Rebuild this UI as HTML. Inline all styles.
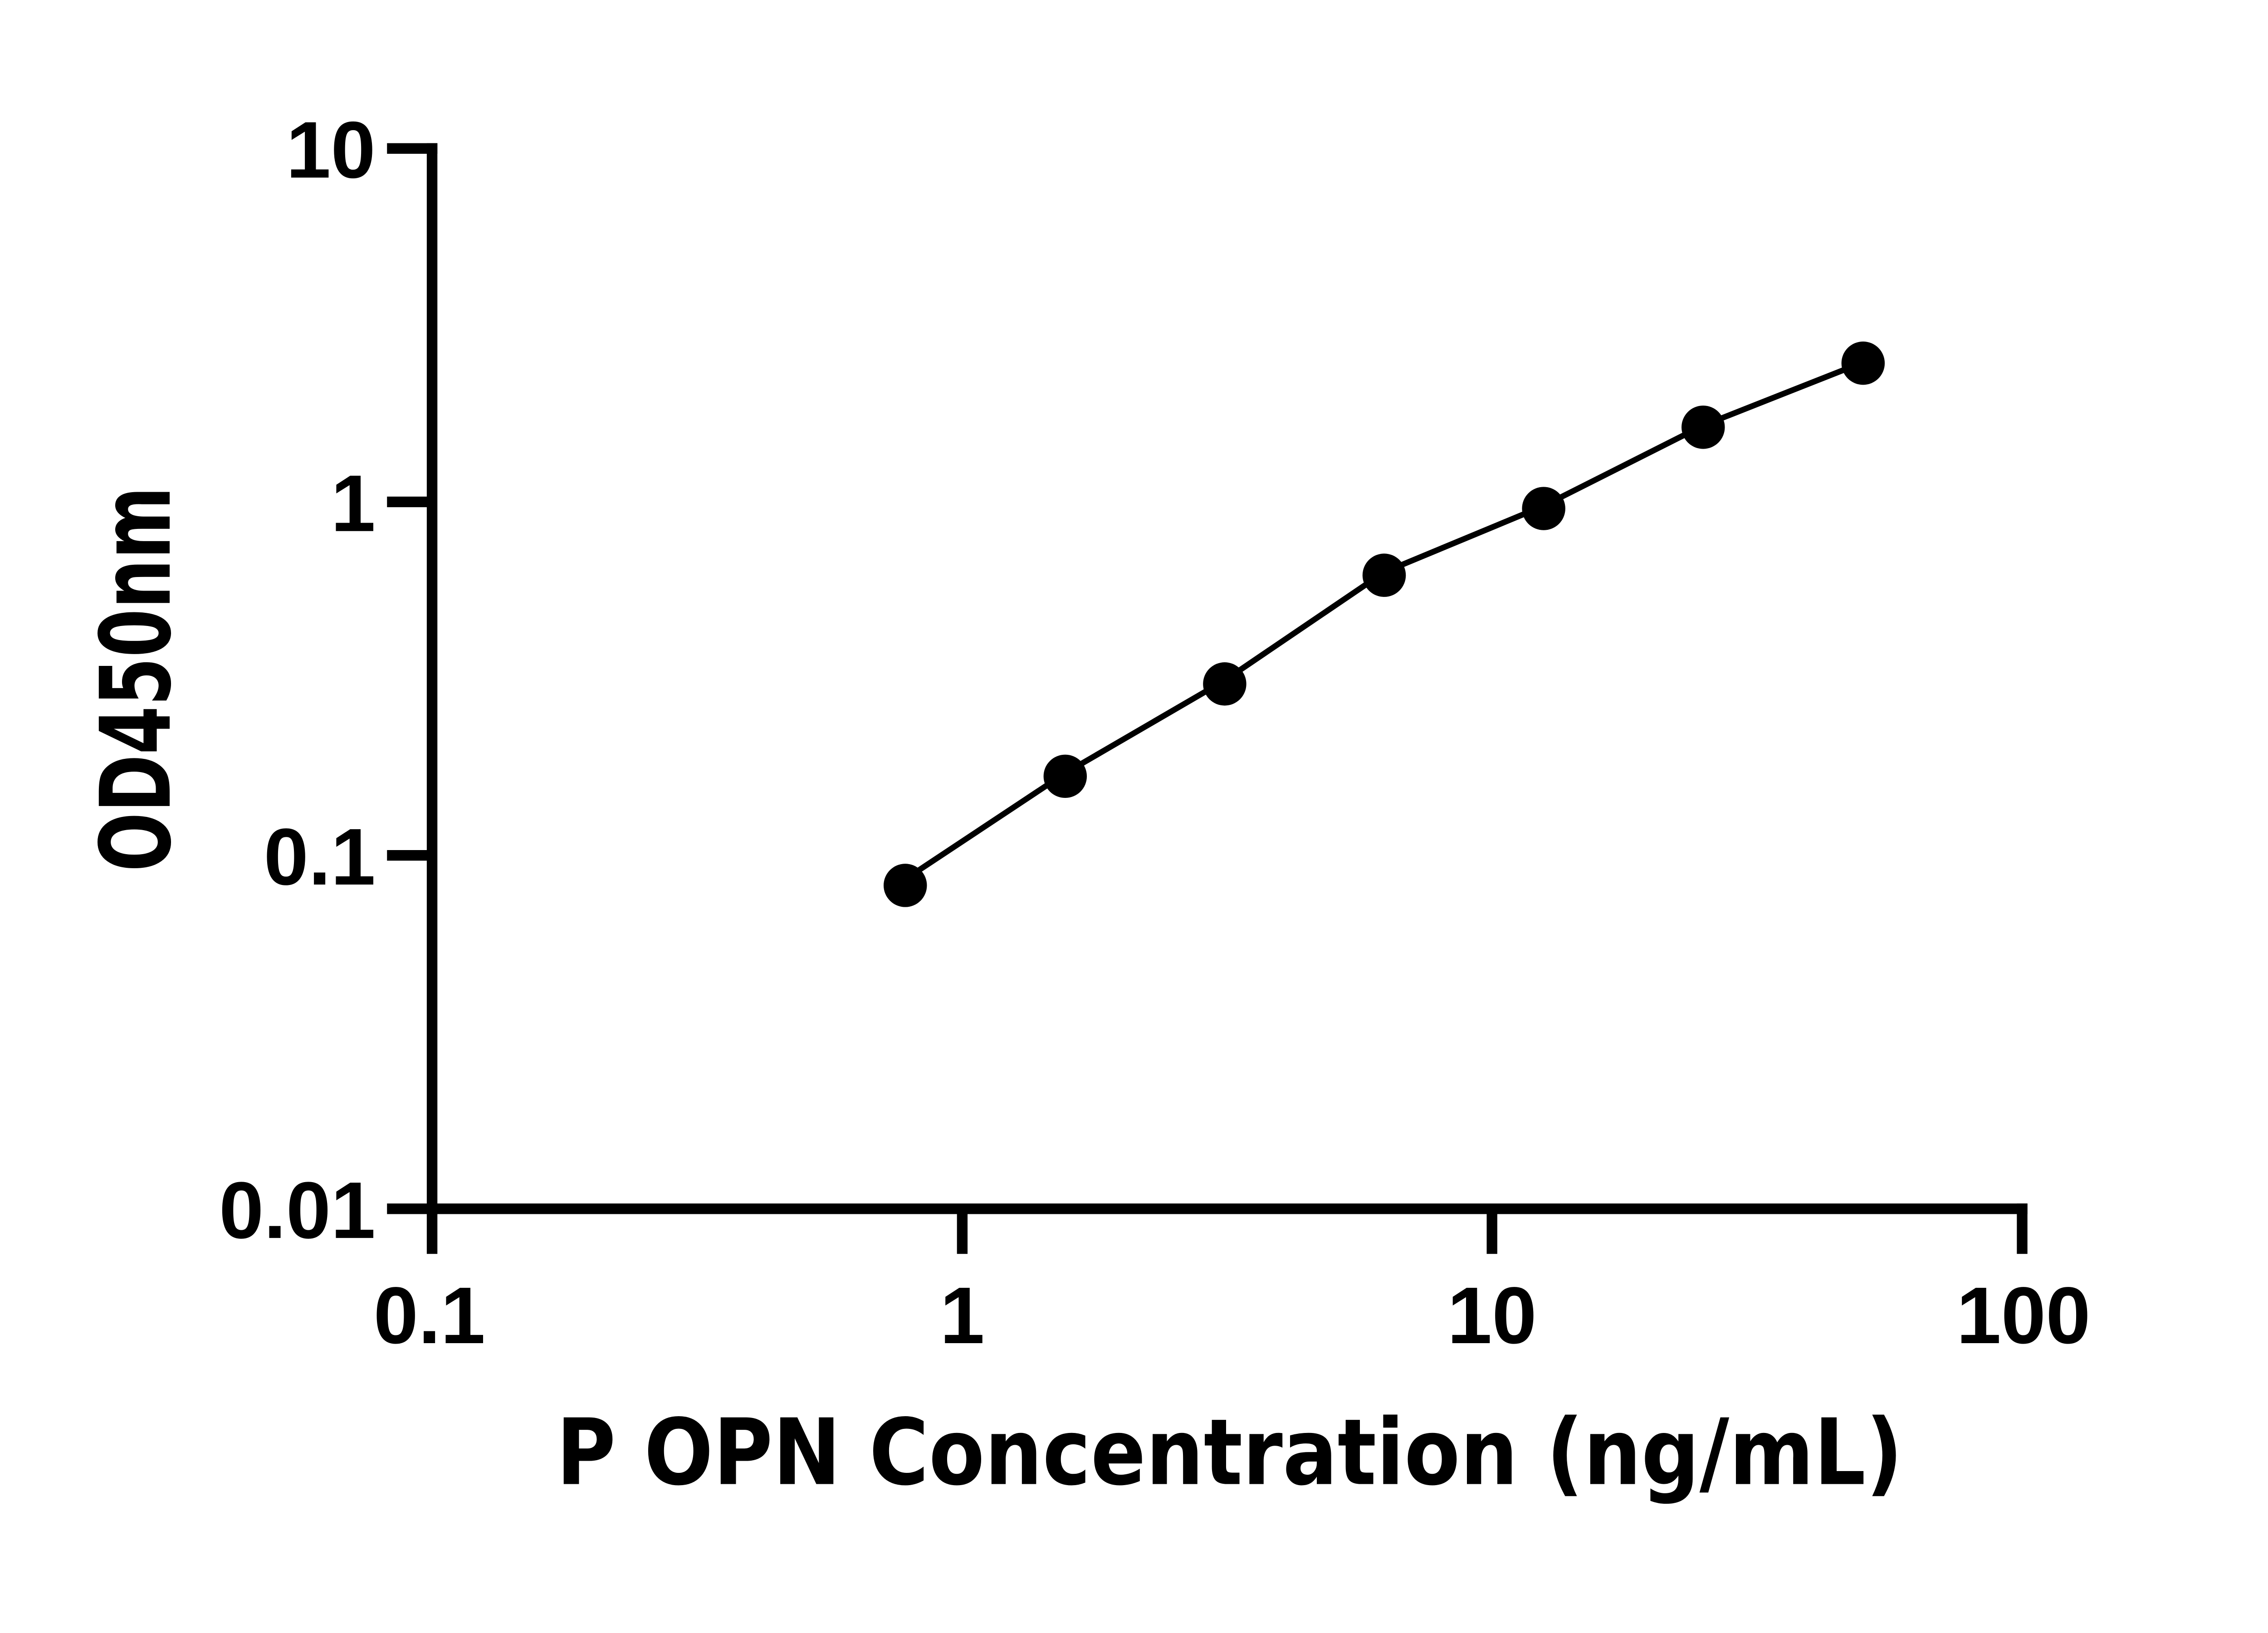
<!DOCTYPE html>
<html><head><meta charset="utf-8"><style>html,body{margin:0;padding:0;background:#fff}svg{display:block}.t{font-family:"Liberation Sans",Arial,sans-serif;font-weight:bold;font-size:182px}</style></head>
<body>
<svg width="5130" height="3600" viewBox="0 0 5130 3600" xmlns="http://www.w3.org/2000/svg">
<rect width="5130" height="3600" fill="#fff"/>
<g transform="scale(0.974)">
<g stroke="#000" stroke-width="24" fill="none" stroke-linecap="butt">
<line x1="978" y1="324" x2="978" y2="2838"/>
<line x1="876" y1="336" x2="990" y2="336"/>
<line x1="876" y1="1136" x2="978" y2="1136"/>
<line x1="876" y1="1936" x2="978" y2="1936"/>
<line x1="876" y1="2736" x2="4589" y2="2736"/>
<line x1="2178" y1="2736" x2="2178" y2="2838"/>
<line x1="3377" y1="2736" x2="3377" y2="2838"/>
<line x1="4577" y1="2724" x2="4577" y2="2838"/>
</g>
<g class="t" fill="#000">
<text x="850" y="402" text-anchor="end">10</text>
<text x="850" y="1202" text-anchor="end">1</text>
<text x="850" y="2002" text-anchor="end">0.1</text>
<text x="850" y="2802" text-anchor="end">0.01</text>
<text x="972" y="3040" text-anchor="middle">0.1</text>
<text x="2178" y="3040" text-anchor="middle">1</text>
<text x="3377" y="3040" text-anchor="middle">10</text>
<text x="4580" y="3040" text-anchor="middle">100</text>
</g>
<text x="1259" y="3359" font-family="DejaVu Sans, sans-serif" font-weight="bold" font-size="207" textLength="3048" lengthAdjust="spacingAndGlyphs">P OPN Concentration (ng/mL)</text>
<text transform="translate(384,1973) rotate(-90)" font-family="DejaVu Sans, sans-serif" font-weight="bold" font-size="220" textLength="872" lengthAdjust="spacingAndGlyphs">OD450nm</text>
<polyline fill="none" stroke="#000" stroke-width="13" stroke-linejoin="round" points="2049,1990 2411,1750 2772,1540 3133,1295 3494,1145 3855,963 4217,820"/>
<g fill="#000">
<circle cx="2049" cy="2004" r="49"/>
<circle cx="2411" cy="1757" r="49"/>
<circle cx="2772" cy="1548" r="49"/>
<circle cx="3133" cy="1302" r="49"/>
<circle cx="3494" cy="1151" r="49"/>
<circle cx="3855" cy="967" r="49"/>
<circle cx="4217" cy="822" r="49"/>
</g>
</g>
</svg>
</body></html>
